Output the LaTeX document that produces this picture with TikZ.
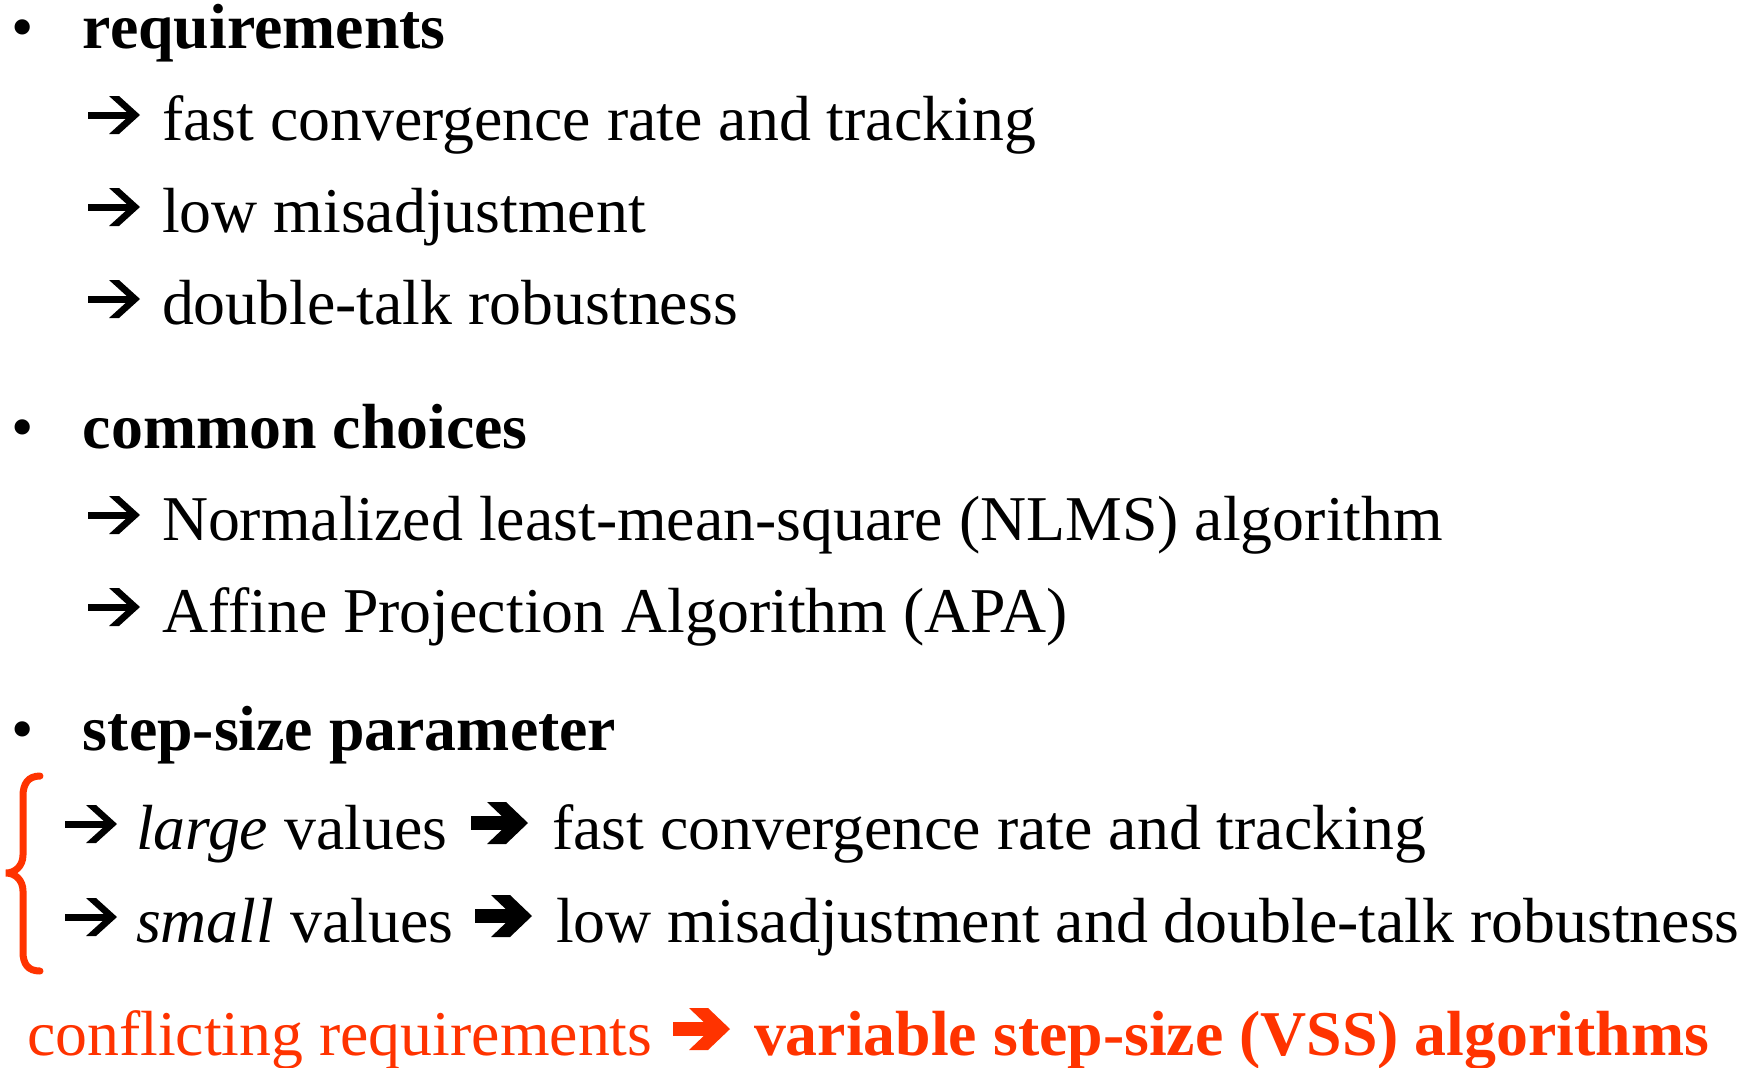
\documentclass[tikz,border=0pt]{standalone}
\usepackage{fontspec}
\setmainfont{Liberation Serif}
\usepackage{tikz}
\usetikzlibrary{positioning}

\definecolor{vssred}{RGB}{255,51,0}
\newcommand{\slidefont}{\fontsize{31.9}{38}\selectfont}

\tikzset{
  txt/.style={anchor=base west, inner sep=0pt, outer sep=0pt, font=\slidefont},
  hd/.style={txt, font=\slidefont\bfseries},
  % wingdings-like arrows, origin at left end on the baseline
  thinarr/.pic={
    \fill (0,-28.5) rectangle (46,-21.5);
    \fill (21,-44) -- (31,-44) -- (52,-25) -- (31,-6) -- (21,-6) -- (42,-25) -- cycle;
  },
  boldarr/.pic={
    \fill (0,-33) rectangle (40,-19);
    \fill (16,-47) -- (35,-47) -- (57,-26) -- (35,-5) -- (16,-5) -- (38,-26) -- cycle;
  },
}

\begin{document}
\begin{tikzpicture}[x=0.5pt, y=-0.5pt]
            \useasboundingbox[fill=white] (0,0) rectangle (1757,1067);
            % requirements
            \node[txt] (b1) at (11,48) {•};
            \node[hd] (req) at (83,48) {requirements};
            \pic at (88,140) {thinarr};
            \node[txt] (req1) at (162,140) {fast convergence rate and tracking};
            \pic at (88,232) {thinarr};
            \node[txt] (req2) at (162,232) {low misadjustment};
            \pic at (88,324) {thinarr};
            \node[txt] (req3) at (162,324) {double-talk robustness};
            % common choices
            \node[txt] (b2) at (11,448) {•};
            \node[hd] (com) at (83,448) {common choices};
            \pic at (88,540) {thinarr};
            \node[txt] (com1) at (162,540) {Normalized least-mean-square (NLMS) algorithm};
            \pic at (88,632) {thinarr};
            \node[txt] (com2) at (162,632) {Affine Projection Algorithm (APA)};
            % step-size
            \node[txt] (b3) at (11,750) {•};
            \node[hd] (stepsz) at (83,750) {step-size parameter};
            \draw[vssred, line width=3.5, line cap=round] (40,776) .. controls (28,776) and (23,784) .. (23,796) -- (23,855)
                .. controls (23,866) and (15,873) .. (6,873) .. controls (15,873) and (23,880) .. (23,891) -- (23,952)
                .. controls (23,964) and (28,971) .. (40,971);
            \pic at (65,849) {thinarr};
            \node[txt] (lg) at (136,849) {\textit{large} values};
            \pic at (471,849) {boldarr};
            \node[txt] (lg1) at (552,849) {fast convergence rate and tracking};
            \pic at (65,942) {thinarr};
            \node[txt] (sm) at (136,942) {\textit{small} values};
            \pic at (475,942) {boldarr};
            \node[txt] (sm1) at (556,942) {low misadjustment and double-talk robustness};
            % conclusion
            \node[txt, vssred] (conf) at (27,1055) {conflicting requirements};
            \pic[color=vssred] at (673,1055) {boldarr};
            \node[hd, vssred] (vss) at (754,1055) {variable step-size (VSS) algorithms};
        \end{tikzpicture}
\end{document}
